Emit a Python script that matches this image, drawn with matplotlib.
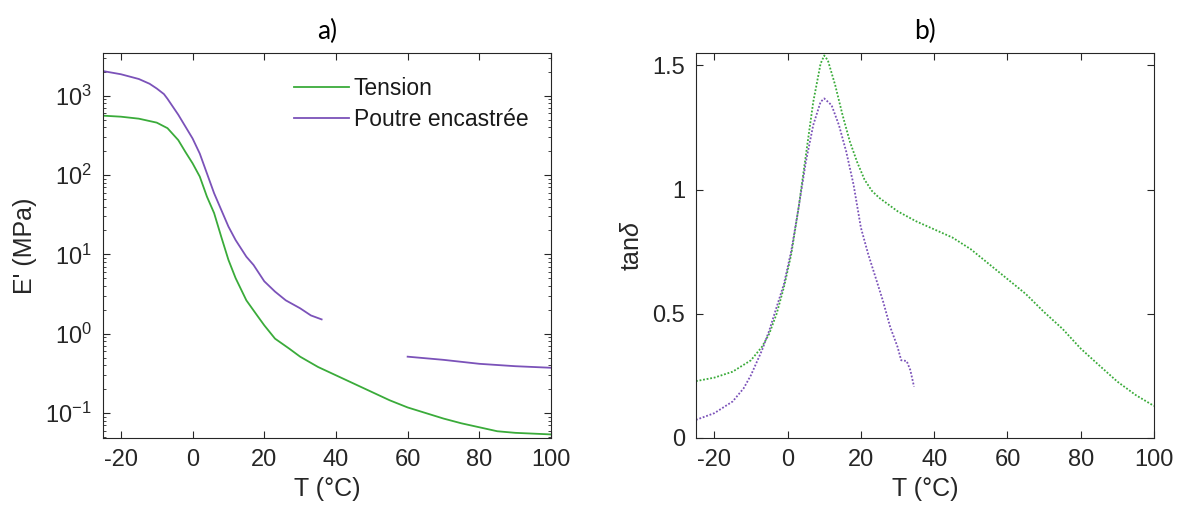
import numpy as np
import matplotlib
matplotlib.use("Agg")
import matplotlib.pyplot as plt
from matplotlib.ticker import LogLocator, NullFormatter

plt.rcParams['font.family'] = ['Liberation Sans', 'DejaVu Sans']
plt.rcParams['mathtext.fontset'] = 'custom'
plt.rcParams['mathtext.rm'] = 'Liberation Sans'
plt.rcParams['mathtext.it'] = 'Liberation Sans:italic'
plt.rcParams['axes.unicode_minus'] = False

# storage modulus E' (MPa) (log10 values)
t_tension = [-25, -20, -15, -10, -7, -4, -2, 0, 2, 4, 6, 8, 10, 12, 15, 18, 20, 23, 27,
             30, 35, 40, 45, 50, 55, 60, 65, 70, 75, 80, 85, 90, 95, 100]
logE_tension = [2.748, 2.735, 2.71, 2.66, 2.59, 2.44, 2.29, 2.147, 1.98, 1.727, 1.52,
                1.22, 0.93, 0.70, 0.42, 0.23, 0.105, -0.063, -0.19, -0.29, -0.42, -0.525,
                -0.63, -0.735, -0.84, -0.93, -1.0, -1.07, -1.13, -1.18, -1.23, -1.25,
                -1.26, -1.27]

t_poutre1 = [-25, -20, -15, -12, -10, -8, -7, -4, -2, 0, 2, 4, 6, 8, 10, 12, 15, 17, 20,
             23, 26, 30, 33, 36]
logE_poutre1 = [3.31, 3.27, 3.21, 3.15, 3.09, 3.02, 2.96, 2.76, 2.61, 2.46, 2.27, 2.02,
                1.77, 1.56, 1.35, 1.18, 0.97, 0.866, 0.66, 0.53, 0.42, 0.32, 0.23, 0.18]
t_poutre2 = [60, 70, 80, 90, 100]
logE_poutre2 = [-0.29, -0.33, -0.38, -0.41, -0.43]

# tan delta
t_tan_tension = [-25, -20, -15, -10, -7, -5, -3, -1, 1, 3, 5, 7, 9, 10, 11, 13, 15, 17,
                 19, 21, 23, 25, 30, 35, 40, 45, 50, 55, 60, 65, 70, 75, 80, 85, 90, 95, 100]
tan_tension = [0.229, 0.243, 0.267, 0.313, 0.367, 0.42, 0.5, 0.607, 0.74, 0.927, 1.14,
               1.353, 1.507, 1.54, 1.52, 1.42, 1.3, 1.193, 1.11, 1.04, 0.995, 0.967, 0.913,
               0.873, 0.84, 0.807, 0.76, 0.7, 0.64, 0.58, 0.507, 0.44, 0.36, 0.293,
               0.227, 0.173, 0.129]
t_tan_poutre = [-25, -20, -15, -12, -10, -7, -5, -3, -1, 1, 3, 5, 7, 9, 10, 12, 14, 16,
                18, 20, 22, 24, 26, 28, 30, 31, 32.5, 33.5, 34.5]
tan_poutre = [0.073, 0.1, 0.147, 0.2, 0.253, 0.353, 0.433, 0.527, 0.62, 0.753, 0.927,
              1.113, 1.26, 1.353, 1.367, 1.34, 1.26, 1.153, 1.02, 0.847, 0.74, 0.647,
              0.553, 0.447, 0.367, 0.313, 0.31, 0.273, 0.207]

green = '#3aab3a'
purple = '#7b52b9'
frame = '#262626'


def style_axes(ax):
    ax.tick_params(which='both', direction='in', top=True, right=True,
                   labelsize=17, colors=frame, pad=8)
    ax.tick_params(which='major', length=5)
    ax.tick_params(which='minor', length=2.5)
    for s in ax.spines.values():
        s.set_color(frame)
        s.set_linewidth(0.8)


fig = plt.figure(figsize=(11.79, 5.15), dpi=100)
ax1 = fig.add_axes([103 / 1179, 1 - 438 / 515, 448 / 1179, 385 / 515])
ax2 = fig.add_axes([696 / 1179, 1 - 438 / 515, 458 / 1179, 385 / 515])

ax1.plot(t_tension, 10 ** np.array(logE_tension), color=green, lw=1.3, label='Tension')
ax1.plot(t_poutre1, 10 ** np.array(logE_poutre1), color=purple, lw=1.3,
         label='Poutre encastrée')
ax1.plot(t_poutre2, 10 ** np.array(logE_poutre2), color=purple, lw=1.3)
ax1.set_yscale('log')
ax1.set_xlim(-25, 100)
ax1.set_ylim(0.0484, 3450)
ax1.set_xticks([-20, 0, 20, 40, 60, 80, 100])
ax1.yaxis.set_major_locator(LogLocator(base=10, numticks=10))
ax1.yaxis.set_minor_locator(LogLocator(base=10, subs=np.arange(2, 10), numticks=20))
ax1.yaxis.set_minor_formatter(NullFormatter())
ax1.set_xlabel('T (°C)', fontsize=18, color=frame, labelpad=4)
ax1.set_ylabel("E' (MPa)", fontsize=18, color=frame, labelpad=6)
style_axes(ax1)
leg = ax1.legend(loc='upper right', fontsize=16.5, frameon=False, handlelength=2.4,
                 handletextpad=0.2, borderaxespad=0.4, labelspacing=0.35,
                 bbox_to_anchor=(0.99, 0.985))
for txt in leg.get_texts():
    txt.set_color('#1a1a1a')
ax1.set_title('a)', fontsize=19, family='Lato', pad=10)

ax2.plot(t_tan_tension, tan_tension, color=green, lw=1.3, ls=(0, (1, 1)))
ax2.plot(t_tan_poutre, tan_poutre, color=purple, lw=1.3, ls=(0, (1, 1)))
ax2.set_xlim(-25, 100)
ax2.set_ylim(0, 1.55)
ax2.set_xticks([-20, 0, 20, 40, 60, 80, 100])
ax2.set_yticks([0, 0.5, 1, 1.5])
ax2.set_yticklabels(['0', '0.5', '1', '1.5'])
ax2.set_xlabel('T (°C)', fontsize=18, color=frame, labelpad=4)
ax2.set_ylabel(r'tan$\it{\delta}$', fontsize=18, color=frame, labelpad=6)
style_axes(ax2)
ax2.set_title('b)', fontsize=19, family='Lato', pad=10)

fig.savefig('out.png', dpi=100)
